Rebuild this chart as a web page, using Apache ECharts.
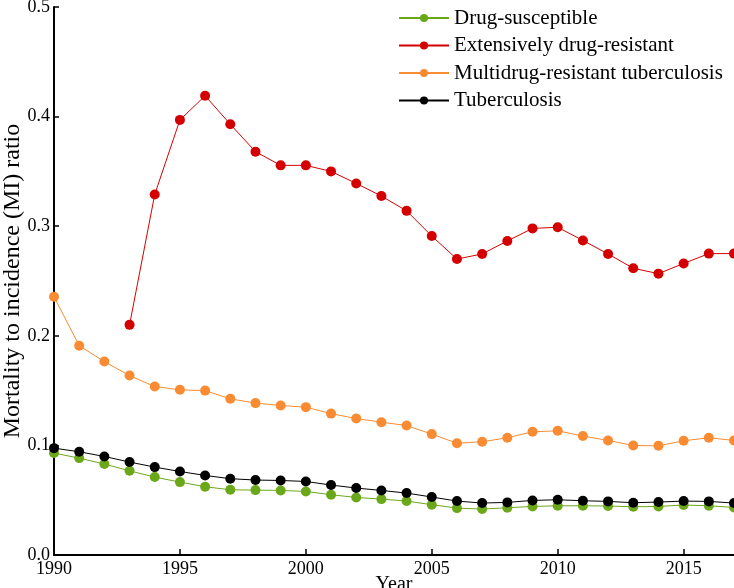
<!DOCTYPE html>
<html><head><meta charset="utf-8">
<script src="https://cdn.jsdelivr.net/npm/echarts@6/dist/echarts.min.js"></script>
<style>html,body{margin:0;padding:0;background:#fff}#c{width:734px;height:588px}</style>
</head><body><div id="c"></div>
<script>
const years = [1990,1991,1992,1993,1994,1995,1996,1997,1998,1999,2000,2001,2002,2003,2004,2005,2006,2007,2008,2009,2010,2011,2012,2013,2014,2015,2016,2017];
const drugSusceptible = [0.093,0.0884,0.083,0.0768,0.0711,0.0665,0.0623,0.0595,0.0592,0.0589,0.058,0.055,0.0525,0.051,0.0492,0.0459,0.0428,0.0419,0.0431,0.0443,0.0449,0.0449,0.0447,0.044,0.0443,0.0456,0.0449,0.0434];
const xdrYears = [1993,1994,1995,1996,1997,1998,1999,2000,2001,2002,2003,2004,2005,2006,2007,2008,2009,2010,2011,2012,2013,2014,2015,2016,2017];
const extensivelyDR = [0.210,0.329,0.397,0.419,0.393,0.368,0.3555,0.3555,0.350,0.339,0.3275,0.314,0.291,0.270,0.2747,0.2865,0.298,0.299,0.287,0.2747,0.2616,0.2567,0.266,0.275,0.275];
const multidrugResistant = [0.2357,0.191,0.1765,0.1637,0.1537,0.1507,0.150,0.1425,0.1386,0.1364,0.1349,0.129,0.1245,0.1212,0.1181,0.1103,0.102,0.1033,0.107,0.1124,0.1133,0.1085,0.1045,0.0999,0.0996,0.1042,0.107,0.1045];
const tuberculosis = [0.0975,0.0942,0.0899,0.0848,0.0802,0.0762,0.0726,0.0696,0.0684,0.068,0.0671,0.0638,0.0611,0.0589,0.0565,0.0529,0.0492,0.0474,0.048,0.0498,0.0504,0.0495,0.0489,0.0477,0.0483,0.0492,0.0489,0.0474];
const seriesNames = ['Drug-susceptible','Extensively drug-resistant','Multidrug-resistant tuberculosis','Tuberculosis'];

const font = 'Liberation Serif';
const pair = (xs, ys) => xs.map((x, i) => [x, ys[i]]);
function mk(name, xs, ys, color) {
  return {
    name, type: 'line', data: pair(xs, ys),
    symbol: 'circle', symbolSize: 10, showSymbol: true,
    lineStyle: { color, width: 1 }, itemStyle: { color },
    emphasis: { disabled: true }, animation: false, clip: false
  };
}
const chart = echarts.init(document.getElementById('c'), null, { renderer: 'canvas' });
chart.setOption({
  animation: false,
  grid: { left: 54, right: 0, top: 7, bottom: 33, containLabel: false, outerBoundsMode: 'none' },
  legend: {
    orient: 'vertical', left: 393, top: 2,
    itemWidth: 50, itemHeight: 10, itemGap: 5.5,
    textStyle: { fontFamily: font, fontSize: 21, color: '#000', lineHeight: 22 },
    data: seriesNames
  },
  xAxis: {
    type: 'value', min: 1990, max: 2017, interval: 5,
    name: 'Year', nameLocation: 'middle', nameGap: 20, nameMoveOverlap: false,
    nameTextStyle: { fontFamily: font, fontSize: 20, color: '#000' },
    axisLine: { show: true, onZero: false, lineStyle: { color: '#000', width: 2 } },
    axisTick: { show: true, inside: true, length: 6, lineStyle: { color: '#000', width: 1.5 } },
    axisLabel: { fontFamily: font, fontSize: 18, color: '#000', margin: 5, showMaxLabel: false, formatter: v => String(v) },
    splitLine: { show: false }
  },
  yAxis: {
    type: 'value', min: 0, max: 0.5, interval: 0.1,
    name: 'Mortality to incidence (MI) ratio', nameLocation: 'middle', nameGap: 29, nameMoveOverlap: false,
    nameTextStyle: { fontFamily: font, fontSize: 24, color: '#000' },
    axisLine: { show: true, lineStyle: { color: '#000', width: 2 } },
    axisTick: { show: true, inside: true, length: 5, lineStyle: { color: '#000', width: 1.5 } },
    axisLabel: { fontFamily: font, fontSize: 18, color: '#000', margin: 4, formatter: v => v.toFixed(1) },
    splitLine: { show: false }
  },
  series: [
    mk(seriesNames[0], years, drugSusceptible, '#6aa81a'),
    mk(seriesNames[1], xdrYears, extensivelyDR, '#d40000'),
    mk(seriesNames[2], years, multidrugResistant, '#f98b32'),
    mk(seriesNames[3], years, tuberculosis, '#000000')
  ]
});
</script></body></html>
